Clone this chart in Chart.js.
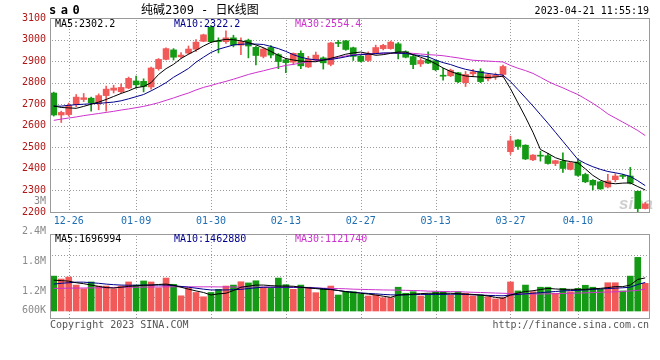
<!DOCTYPE html>
<html><head><meta charset="utf-8">
<script src="https://cdn.jsdelivr.net/npm/chart.js@4.4.0/dist/chart.umd.min.js"></script>
<style>
html,body{margin:0;padding:0;background:#fff;}
#wrap{position:relative;width:660px;height:360px;}
canvas{position:absolute;left:0;top:0;}
</style></head><body>
<div id="wrap"><canvas id="pc" width="660" height="360"></canvas><canvas id="vc" width="660" height="360"></canvas></div>
<script>
const dates = ['12-22','12-23','12-26','12-27','12-28','12-29','12-30',
 '01-03','01-04','01-05','01-06','01-09','01-10','01-11','01-12','01-13','01-16','01-17','01-18','01-19','01-20','01-30','01-31',
 '02-01','02-02','02-03','02-06','02-07','02-08','02-09','02-10','02-13','02-14','02-15','02-16','02-17','02-20','02-21','02-22','02-23','02-24','02-27','02-28',
 '03-01','03-02','03-03','03-06','03-07','03-08','03-09','03-10','03-13','03-14','03-15','03-16','03-17','03-20','03-21','03-22','03-23','03-24','03-27','03-28','03-29','03-30','03-31',
 '04-03','04-04','04-06','04-07','04-10','04-11','04-12','04-13','04-14','04-17','04-18','04-19','04-20','04-21'];
const tickDates = ['12-26','01-09','01-30','02-13','02-27','03-13','03-27','04-10'];
const priceTicks = [2200,2300,2400,2500,2600,2700,2800,2900,3000,3100];
const volTickLabels = ['3M','2.4M','1.8M','1.2M','600K'];
const volTickValues = [3000000,2400000,1800000,1200000,600000];

const open = [2752,2650,2652,2698,2722,2728,2702,2740,2765,2758,
 2775,2808,2806,2780,2865,2908,2952,2920,2937,2955,
 2992,3057,2995,2990,3008,2974,2997,2964,2922,2963,
 2930,2906,2895,2936,2873,2905,2915,2885,2986,2994,
 2962,2923,2903,2937,2958,2958,2980,2944,2921,2887,
 2905,2902,2834,2832,2846,2800,2841,2853,2818,2828,
 2838,2480,2534,2510,2442,2462,2461,2425,2435,2398,
 2432,2374,2347,2340,2316,2350,2368,2367,2296,2216];
const high = [2756,2668,2705,2745,2750,2733,2748,2784,2788,2795,
 2826,2830,2818,2872,2912,2962,2958,2940,2970,3000,
 3025,3065,3008,3040,3020,3008,3002,2968,2962,2972,
 2935,2912,2938,2948,2922,2942,2920,2987,2996,2996,
 2965,2926,2943,2974,2978,2993,2986,2948,2928,2912,
 2943,2905,2866,2863,2848,2852,2862,2865,2840,2845,
 2882,2552,2536,2512,2466,2482,2472,2440,2474,2432,
 2445,2380,2350,2342,2375,2378,2375,2407,2298,2245];
const low = [2645,2615,2645,2688,2712,2668,2674,2668,2752,2752,
 2772,2775,2757,2770,2858,2905,2905,2915,2932,2945,
 2990,2985,2938,2982,2966,2930,2915,2882,2915,2915,
 2865,2846,2883,2865,2870,2900,2863,2878,2967,2950,
 2903,2896,2898,2932,2952,2955,2910,2915,2865,2875,
 2888,2855,2812,2828,2800,2782,2828,2800,2808,2815,
 2825,2467,2490,2443,2438,2436,2422,2415,2384,2395,
 2366,2336,2303,2305,2312,2340,2355,2330,2198,2214];
const close = [2650,2662,2695,2733,2730,2707,2740,2770,2775,2778,
 2820,2790,2782,2868,2908,2958,2918,2928,2956,2988,
 3022,2990,2990,3008,2975,2990,2970,2926,2956,2928,
 2898,2893,2936,2878,2909,2928,2892,2984,2982,2954,
 2922,2899,2933,2963,2973,2988,2935,2918,2884,2903,
 2891,2860,2830,2858,2804,2838,2850,2805,2837,2834,
 2875,2530,2504,2446,2464,2459,2425,2438,2402,2428,
 2370,2340,2325,2307,2344,2367,2365,2334,2216,2238];
const ma5 = [2692,2685,2683,2681,2690,2700,2710,2722,2736,2750,
 2762,2777,2782,2800,2838,2865,2885,2912,2932,2950,
 2970,2987,2995,3001,2999,2994,2986,2975,2962,2945,
 2927,2912,2905,2900,2898,2897,2905,2913,2922,2932,
 2938,2942,2935,2927,2930,2936,2942,2942,2930,2918,
 2905,2888,2868,2852,2840,2831,2828,2826,2824,2826,
 2830,2772,2706,2640,2570,2490,2472,2452,2440,2434,
 2428,2400,2370,2348,2335,2331,2334,2335,2318,2302.2];
const ma10 = [2691,2691,2695,2698,2700,2702,2704,2707,2710,2716,
 2725,2735,2745,2762,2780,2800,2825,2845,2866,2895,
 2918,2940,2955,2965,2975,2978,2980,2979,2977,2968,
 2958,2945,2930,2918,2910,2906,2905,2908,2913,2920,
 2927,2930,2932,2935,2938,2938,2937,2935,2930,2925,
 2920,2905,2893,2884,2872,2862,2855,2848,2843,2838,
 2835,2805,2768,2730,2692,2652,2612,2570,2528,2486,
 2444,2425,2410,2398,2388,2382,2375,2365,2345,2322.2];
const ma30 = [2625,2631,2636,2641,2647,2652,2657,2662,2667,2673,
 2678,2684,2690,2698,2707,2718,2729,2741,2752,2766,
 2778,2787,2797,2806,2816,2827,2838,2847,2855,2864,
 2872,2880,2885,2891,2896,2901,2906,2912,2917,2924,
 2930,2932,2934,2935,2936,2937,2938,2938,2936,2933,
 2930,2928,2925,2920,2915,2909,2904,2902,2900,2898,
 2896,2880,2867,2856,2843,2825,2806,2790,2776,2760,
 2745,2725,2704,2681,2655,2636,2617,2598,2578,2554.4];
const volume = [1790000,1640000,1740000,1330000,1140000,1490000,1280000,1280000,1140000,1280000,
 1490000,1330000,1540000,1490000,1190000,1690000,1370000,780000,1180000,950000,
 730000,950000,1110000,1280000,1330000,1500000,1440000,1550000,1220000,1160000,
 1690000,1350000,1110000,1330000,1220000,940000,1160000,1280000,820000,990000,
 990000,870000,770000,820000,680000,680000,1220000,910000,990000,770000,
 870000,990000,990000,820000,990000,910000,770000,820000,730000,620000,
 680000,1490000,1030000,1330000,990000,1220000,1220000,910000,1160000,990000,
 1160000,1320000,1220000,1110000,1450000,1450000,1030000,1790000,2750000,1420000];
const volMa5 = [1580000,1560000,1530000,1450000,1400000,1330000,1260000,1200000,1180000,1220000,
 1260000,1290000,1320000,1330000,1360000,1380000,1320000,1220000,1120000,1030000,
 950000,820000,880000,910000,1050000,1220000,1270000,1330000,1330000,1300000,
 1280000,1280000,1270000,1220000,1180000,1150000,1110000,1100000,1050000,990000,
 950000,910000,870000,820000,760000,700000,820000,840000,870000,890000,
 910000,910000,910000,910000,890000,870000,850000,820000,770000,700000,
 650000,820000,920000,1000000,1040000,1100000,1160000,1130000,1110000,1110000,
 1110000,1110000,1140000,1160000,1200000,1250000,1250000,1330000,1620000,1696994];
const volMa10 = [1380000,1420000,1450000,1480000,1480000,1450000,1420000,1380000,1350000,1330000,
 1320000,1320000,1330000,1330000,1330000,1330000,1300000,1260000,1220000,1170000,
 1120000,1080000,1080000,1080000,1090000,1110000,1150000,1190000,1220000,1220000,
 1220000,1220000,1220000,1220000,1200000,1180000,1150000,1110000,1050000,1000000,
 960000,930000,900000,880000,850000,830000,820000,830000,840000,850000,
 850000,850000,850000,860000,860000,850000,830000,820000,800000,790000,
 780000,820000,850000,880000,910000,940000,970000,1000000,1030000,1050000,
 1060000,1080000,1110000,1130000,1150000,1170000,1190000,1220000,1360000,1462880];
const volMa30 = [1160000,1165000,1170000,1175000,1180000,1185000,1190000,1200000,1210000,1215000,
 1220000,1220000,1225000,1230000,1235000,1240000,1240000,1240000,1240000,1240000,
 1240000,1240000,1235000,1235000,1230000,1230000,1228000,1225000,1222000,1220000,
 1220000,1215000,1210000,1200000,1190000,1180000,1170000,1160000,1150000,1140000,
 1120000,1110000,1100000,1090000,1080000,1075000,1070000,1060000,1050000,1040000,
 1020000,1010000,1000000,995000,990000,975000,960000,950000,935000,920000,
 910000,895000,880000,875000,870000,872000,880000,885000,900000,910000,
 920000,930000,945000,960000,970000,985000,1000000,1030000,1060000,1121740];

const RED = '#f25a5a', GREEN = '#149a14';
const C5 = '#000000', C10 = '#00008b', C30 = '#cc33cc';
const GRID = '#9a9a9a', FRAME = '#9a9a9a';
const MONO = "'DejaVu Sans Mono','Liberation Mono',monospace";
const colors = close.map((c, i) => c >= open[i] ? RED : GREEN);
const tickIdx = tickDates.map(d => dates.indexOf(d));
const last = dates.length - 1;

// dotted grid drawn from the scales' own tick positions
function gridPlugin(yId) {
  return {
    id: 'dotgrid_' + yId,
    beforeDatasetsDraw(c) {
      const a = c.chartArea, ctx = c.ctx, xs = c.scales.xg, ys = c.scales[yId];
      ctx.save(); ctx.fillStyle = GRID;
      ys.ticks.forEach(t => {
        const y = Math.round(ys.getPixelForValue(t.value));
        if (y <= a.top + 1 || y >= a.bottom - 1) return;
        for (let x = Math.round(a.left) + 2; x < a.right; x += 3) ctx.fillRect(x, y, 1, 1);
      });
      xs.ticks.forEach(t => {
        if (!tickIdx.includes(t.value)) return;
        const x = Math.round(xs.getPixelForValue(t.value));
        for (let y = Math.round(a.top) + 2; y < a.bottom; y += 3) ctx.fillRect(x, y, 1, 1);
      });
      ctx.restore();
    }
  };
}
const frame = {
  id: 'frame',
  afterDraw(c) {
    const a = c.chartArea, ctx = c.ctx;
    ctx.save(); ctx.strokeStyle = FRAME; ctx.lineWidth = 1;
    ctx.strokeRect(Math.round(a.left) + 0.5, Math.round(a.top) + 0.5,
      Math.round(a.right - a.left), Math.round(a.bottom - a.top));
    ctx.restore();
  }
};
function txt(ctx, s, x, y, color, font, align, spacing) {
  ctx.save(); ctx.fillStyle = color; ctx.font = font; ctx.textAlign = align || 'left';
  ctx.textBaseline = 'middle'; if (spacing) ctx.letterSpacing = spacing;
  ctx.fillText(s, x, y); ctx.restore();
}
const priceText = {
  id: 'priceText',
  beforeDatasetsDraw(c) {
    txt(c.ctx, 'sina', 619, 204, 'rgba(190,190,190,0.75)', "italic bold 17px 'Liberation Sans',sans-serif");
  },
  afterDraw(c) {
    const ctx = c.ctx;
    txt(ctx, 'sa0', 49, 11, '#000', "bold 12px " + MONO, 'left', '4.5px');
    txt(ctx, '纯碱2309 - 日K线图', 141, 11, '#000', "12px " + MONO + ",'Noto Sans CJK SC'");
    txt(ctx, '2023-04-21 11:55:19', 649, 11, '#000', "10px " + MONO, 'right');
    txt(ctx, 'MA5:' + ma5[last].toFixed(1), 55, 24, C5, "10px " + MONO);
    txt(ctx, 'MA10:' + ma10[last].toFixed(1), 174, 24, C10, "10px " + MONO);
    txt(ctx, 'MA30:' + ma30[last].toFixed(1), 295, 24, C30, "10px " + MONO);
  }
};
const volText = {
  id: 'volText',
  afterDraw(c) {
    const ctx = c.ctx;
    volTickLabels.forEach((s, k) => {
      const y = Math.min(310, 201 + (volTickValues[0] - volTickValues[k]) / 600000 * 30);
      txt(ctx, s, 46, y, '#8a8a8a', "10px " + MONO, 'right');
    });
    txt(ctx, 'MA5:' + volMa5[last], 55, 239, C5, "10px " + MONO);
    txt(ctx, 'MA10:' + volMa10[last], 174, 239, C10, "10px " + MONO);
    txt(ctx, 'MA30:' + volMa30[last], 295, 239, C30, "10px " + MONO);
    txt(ctx, 'Copyright 2023 SINA.COM', 50, 325, '#555', "10px " + MONO);
    txt(ctx, 'http://finance.sina.com.cn', 649, 325, '#555', "10px " + MONO, 'right');
  }
};
function lineDs(label, data, color) {
  return { type: 'line', label, data, borderColor: color, borderWidth: 1, pointRadius: 0,
    tension: 0, fill: false, order: 0, xAxisID: 'x', yAxisID: 'y' };
}
function gridX(hideLabels) {
  return {
    type: 'linear', position: 'bottom', min: 0, max: last,
    ticks: { display: !hideLabels, stepSize: 1, autoSkip: false, maxRotation: 0,
      callback: v => tickIdx.includes(v) ? dates[v] : '',
      color: '#1e6eb4', font: { family: MONO, size: 10 }, padding: 3 },
    grid: { display: false, drawTicks: false },
    border: { display: false },
    afterFit: s => { s.height = hideLabels ? 0 : 20; }
  };
}

new Chart(document.getElementById('pc'), {
  type: 'bar',
  data: {
    labels: dates,
    datasets: [
      lineDs('MA5', ma5, C5), lineDs('MA10', ma10, C10), lineDs('MA30', ma30, C30),
      { label: 'body', data: dates.map((d, i) => [open[i], close[i]]), backgroundColor: colors,
        barThickness: 6, minBarLength: 1, grouped: false, order: 2, xAxisID: 'x', yAxisID: 'y' },
      { label: 'wick', data: dates.map((d, i) => [low[i], high[i]]), backgroundColor: colors,
        barThickness: 1, grouped: false, order: 3, xAxisID: 'x', yAxisID: 'y' }
    ]
  },
  options: {
    responsive: false, animation: false, devicePixelRatio: 1,
    layout: { padding: { left: 0, right: 11, top: 18, bottom: 128 } },
    plugins: { legend: { display: false }, tooltip: { enabled: false } },
    scales: {
      x: { type: 'category', display: false, offset: true },
      xg: gridX(false),
      y: { min: priceTicks[0], max: priceTicks[priceTicks.length - 1],
        ticks: { stepSize: priceTicks[1] - priceTicks[0], color: '#b01818',
          font: { family: MONO, size: 10 }, padding: 4, callback: v => String(v) },
        grid: { display: false, drawTicks: false },
        border: { display: false },
        afterFit: s => { s.width = 50; } }
    }
  },
  plugins: [gridPlugin('y'), frame, priceText]
});

new Chart(document.getElementById('vc'), {
  type: 'bar',
  data: {
    labels: dates,
    datasets: [
      lineDs('MA5', volMa5, C5), lineDs('MA10', volMa10, C10), lineDs('MA30', volMa30, C30),
      { label: 'vol', data: volume, backgroundColor: colors, barThickness: 6, order: 2, xAxisID: 'x', yAxisID: 'y' }
    ]
  },
  options: {
    responsive: false, animation: false, devicePixelRatio: 1,
    layout: { padding: { left: 0, right: 11, top: 234, bottom: 42 } },
    plugins: { legend: { display: false }, tooltip: { enabled: false } },
    scales: {
      x: { type: 'category', display: false, offset: true },
      xg: gridX(true),
      y: { min: -359000, max: 3949000, position: 'left',
        ticks: { display: false }, grid: { display: false }, border: { display: false },
        afterFit: s => { s.width = 50; } },
      yg: { min: 0, max: 4, position: 'left',
        ticks: { display: false, stepSize: 1 }, grid: { display: false, drawTicks: false },
        border: { display: false },
        afterFit: s => { s.width = 0; } }
    }
  },
  plugins: [gridPlugin('yg'), frame, volText]
});
</script>
</body></html>
